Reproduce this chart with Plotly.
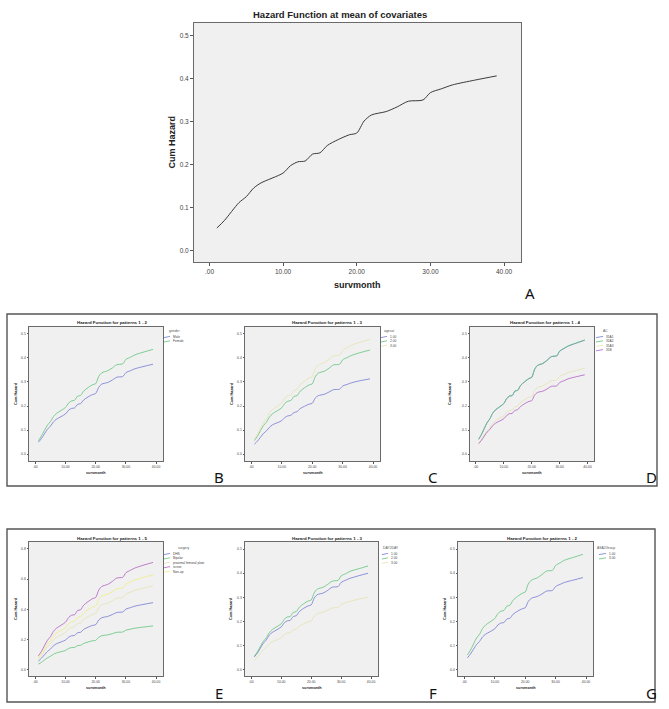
import plotly.graph_objects as go

# ---------------------------------------------------------
# DATOS (riesgo acumulado por mes)
# ---------------------------------------------------------
survmonth = [1, 2, 4, 5, 6, 7, 10, 11, 12, 13, 14, 15, 16, 17.5, 19, 20, 21, 22,
             24, 25.5, 27, 29, 30, 31.5, 33, 36, 39]

hazard_mean = [0.053, 0.070, 0.112, 0.126, 0.146, 0.158, 0.181, 0.198, 0.207, 0.209, 0.225, 0.228,
               0.245, 0.259, 0.270, 0.274, 0.302, 0.316, 0.324, 0.335, 0.348, 0.351, 0.368, 0.377,
               0.386, 0.397, 0.407]

gender_labels = ["Male", "Female"]
gender_male = [0.049, 0.064, 0.103, 0.116, 0.134, 0.145, 0.167, 0.182, 0.190, 0.192, 0.207, 0.210,
               0.225, 0.238, 0.248, 0.252, 0.278, 0.291, 0.298, 0.308, 0.320, 0.323, 0.339, 0.347,
               0.355, 0.365, 0.374]
gender_female = [0.055, 0.075, 0.120, 0.135, 0.156, 0.169, 0.194, 0.212, 0.221, 0.224, 0.241, 0.244,
                 0.262, 0.277, 0.289, 0.293, 0.323, 0.338, 0.347, 0.358, 0.372, 0.376, 0.394, 0.403,
                 0.413, 0.425, 0.436]

agecat_labels = ["1.00", "2.00", "3.00"]
agecat_1 = [0.041, 0.054, 0.086, 0.097, 0.112, 0.122, 0.139, 0.152, 0.159, 0.161, 0.173, 0.176,
            0.189, 0.199, 0.208, 0.211, 0.233, 0.243, 0.249, 0.258, 0.268, 0.270, 0.283, 0.290,
            0.297, 0.306, 0.313]
agecat_2 = [0.056, 0.075, 0.119, 0.134, 0.155, 0.168, 0.193, 0.211, 0.220, 0.223, 0.240, 0.243,
            0.261, 0.276, 0.288, 0.292, 0.322, 0.337, 0.345, 0.357, 0.371, 0.374, 0.392, 0.402,
            0.411, 0.423, 0.433]
agecat_3 = [0.062, 0.082, 0.132, 0.148, 0.172, 0.186, 0.213, 0.233, 0.243, 0.246, 0.264, 0.268,
            0.288, 0.304, 0.317, 0.322, 0.355, 0.371, 0.381, 0.394, 0.409, 0.412, 0.432, 0.443,
            0.454, 0.466, 0.478]

ac_labels = ["31A1", "31A2", "31A3", "31B"]
ac_31a1 = [0.061, 0.081, 0.130, 0.146, 0.169, 0.183, 0.210, 0.230, 0.241, 0.243, 0.262, 0.265,
           0.285, 0.301, 0.314, 0.319, 0.351, 0.368, 0.377, 0.390, 0.405, 0.409, 0.428, 0.439,
           0.449, 0.462, 0.474]
ac_31a2 = [0.062, 0.082, 0.131, 0.147, 0.170, 0.184, 0.211, 0.231, 0.242, 0.244, 0.263, 0.266,
           0.286, 0.302, 0.315, 0.320, 0.352, 0.369, 0.378, 0.391, 0.406, 0.410, 0.429, 0.440,
           0.450, 0.463, 0.475]
ac_31a3 = [0.046, 0.061, 0.098, 0.110, 0.128, 0.139, 0.159, 0.174, 0.182, 0.183, 0.197, 0.200,
           0.215, 0.227, 0.237, 0.240, 0.265, 0.277, 0.284, 0.294, 0.305, 0.308, 0.323, 0.331,
           0.339, 0.348, 0.357]
ac_31b = [0.043, 0.057, 0.091, 0.102, 0.118, 0.128, 0.147, 0.160, 0.168, 0.169, 0.182, 0.185,
          0.198, 0.210, 0.219, 0.222, 0.245, 0.256, 0.262, 0.271, 0.282, 0.284, 0.298, 0.305,
          0.313, 0.322, 0.330]

surgery_labels = ["DHS", "Bipolar", "proximal femoral plate", "screw", "Non-op"]
surgery_dhs = [0.058, 0.077, 0.122, 0.138, 0.160, 0.173, 0.198, 0.216, 0.226, 0.228, 0.246, 0.249,
               0.268, 0.283, 0.295, 0.299, 0.330, 0.345, 0.354, 0.366, 0.380, 0.384, 0.402, 0.412,
               0.422, 0.434, 0.445]
surgery_bipolar = [0.038, 0.050, 0.080, 0.090, 0.104, 0.113, 0.129, 0.142, 0.148, 0.149, 0.161, 0.163,
                   0.175, 0.185, 0.193, 0.196, 0.216, 0.226, 0.232, 0.240, 0.249, 0.251, 0.263, 0.270,
                   0.276, 0.284, 0.291]
surgery_pfp = [0.072, 0.095, 0.153, 0.172, 0.199, 0.216, 0.247, 0.270, 0.282, 0.285, 0.307, 0.311,
               0.334, 0.353, 0.368, 0.374, 0.412, 0.431, 0.442, 0.457, 0.475, 0.479, 0.502, 0.514,
               0.527, 0.542, 0.555]
surgery_screw = [0.093, 0.122, 0.196, 0.220, 0.255, 0.276, 0.316, 0.346, 0.362, 0.365, 0.393, 0.398,
                 0.428, 0.452, 0.472, 0.479, 0.528, 0.552, 0.566, 0.585, 0.608, 0.613, 0.643, 0.659,
                 0.674, 0.694, 0.711]
surgery_nonop = [0.082, 0.108, 0.173, 0.194, 0.225, 0.244, 0.279, 0.306, 0.319, 0.322, 0.347, 0.352,
                 0.378, 0.400, 0.417, 0.423, 0.466, 0.488, 0.500, 0.517, 0.537, 0.542, 0.568, 0.582,
                 0.596, 0.613, 0.628]

day2day_labels = ["1.00", "2.00", "3.00"]
day2day_1 = [0.054, 0.069, 0.110, 0.124, 0.144, 0.155, 0.178, 0.195, 0.203, 0.205, 0.221, 0.224,
             0.241, 0.255, 0.265, 0.269, 0.297, 0.311, 0.318, 0.329, 0.342, 0.345, 0.362, 0.371,
             0.379, 0.390, 0.400]
day2day_2 = [0.056, 0.074, 0.118, 0.133, 0.154, 0.167, 0.191, 0.209, 0.219, 0.221, 0.238, 0.241,
             0.259, 0.274, 0.285, 0.289, 0.319, 0.334, 0.342, 0.354, 0.367, 0.371, 0.389, 0.398,
             0.408, 0.419, 0.430]
day2day_3 = [0.040, 0.052, 0.083, 0.093, 0.108, 0.116, 0.133, 0.146, 0.153, 0.154, 0.166, 0.168,
             0.181, 0.191, 0.199, 0.202, 0.223, 0.233, 0.239, 0.247, 0.256, 0.259, 0.271, 0.278,
             0.284, 0.293, 0.300]

asa_labels = ["1.00", "3.00"]
asa_1 = [0.050, 0.066, 0.105, 0.118, 0.137, 0.148, 0.170, 0.186, 0.194, 0.196, 0.211, 0.214,
         0.230, 0.243, 0.253, 0.257, 0.283, 0.296, 0.304, 0.314, 0.326, 0.329, 0.345, 0.354,
         0.362, 0.372, 0.382]
asa_3 = [0.062, 0.082, 0.132, 0.148, 0.172, 0.186, 0.213, 0.233, 0.243, 0.246, 0.264, 0.268,
         0.288, 0.304, 0.317, 0.322, 0.355, 0.371, 0.381, 0.394, 0.409, 0.412, 0.432, 0.443,
         0.454, 0.466, 0.478]

x_ticks = [0, 10, 20, 30, 40]
x_ticktext = [".00", "10.00", "20.00", "30.00", "40.00"]
y_ticks_05 = [0, 0.1, 0.2, 0.3, 0.4, 0.5]
y_ticktext_05 = ["0.0", "0.1", "0.2", "0.3", "0.4", "0.5"]
y_ticks_08 = [0, 0.2, 0.4, 0.6, 0.8]
y_ticktext_08 = ["0.0", "0.2", "0.4", "0.6", "0.8"]

# ---------------------------------------------------------
# ESTILO / DISPOSICIÓN (en píxeles de la imagen 669x709)
# ---------------------------------------------------------
W, H = 669, 709
FONT = "Liberation Sans, Arial, sans-serif"
BLUE, GREEN, PALE, PURPLE, YELLOW = "#7479d2", "#5fc47a", "#e6e2b0", "#b060c0", "#f0ec80"


def px(x):
    return x / W


def py(y):
    return 1 - y / H


paneles = [
    dict(box=(194, 23, 521, 262), yr=(-0.026, 0.53), yt=(y_ticks_05, y_ticktext_05),
         title="Hazard Function at mean of covariates", title_xy=(340, 15), big=True,
         series=[(hazard_mean, "#3a3a3a")], ylab_x=171, letter=("A", 530, 293)),
    dict(box=(29, 327, 163, 461), yr=(-0.029, 0.529), yt=(y_ticks_05, y_ticktext_05),
         title="Hazard Function for patterns 1 - 2", title_xy=(112, 322),
         series=[(gender_male, BLUE), (gender_female, GREEN)],
         legend=("gender", gender_labels, 167, 331, 164, 171), ylab_x=16, letter=("B", 219, 477)),
    dict(box=(245, 327, 380, 461), yr=(-0.029, 0.529), yt=(y_ticks_05, y_ticktext_05),
         title="Hazard Function for patterns 1 - 3", title_xy=(327, 322),
         series=[(agecat_1, BLUE), (agecat_2, GREEN), (agecat_3, PALE)],
         legend=("agecat", agecat_labels, 382, 331, 381, 388), ylab_x=232, letter=("C", 433, 477)),
    dict(box=(470, 327, 594, 461), yr=(-0.029, 0.529), yt=(y_ticks_05, y_ticktext_05),
         title="Hazard Function for patterns 1 - 4", title_xy=(545, 322),
         series=[(ac_31a1, BLUE), (ac_31a2, GREEN), (ac_31a3, PALE), (ac_31b, PURPLE)],
         legend=("AC", ac_labels, 601, 331, 596, 604), ylab_x=450, letter=("D", 651, 477)),
    dict(box=(29, 542, 163, 676), yr=(-0.040, 0.846), yt=(y_ticks_08, y_ticktext_08),
         title="Hazard Function for patterns 1 - 5", title_xy=(112, 538),
         series=[(surgery_dhs, BLUE), (surgery_bipolar, GREEN), (surgery_pfp, PALE),
                 (surgery_screw, PURPLE), (surgery_nonop, YELLOW)],
         legend=("surgery", surgery_labels, 176, 548, 164, 171), ylab_x=16, letter=("E", 219, 693)),
    dict(box=(245, 542, 378, 676), yr=(-0.025, 0.529), yt=(y_ticks_05, y_ticktext_05),
         title="Hazard Function for patterns 1 - 3", title_xy=(327, 538),
         series=[(day2day_1, BLUE), (day2day_2, GREEN), (day2day_3, PALE)],
         legend=("DAY2DAY", day2day_labels, 381, 548, 382, 389), ylab_x=231, letter=("F", 433, 693)),
    dict(box=(458, 542, 593, 676), yr=(-0.025, 0.529), yt=(y_ticks_05, y_ticktext_05),
         title="Hazard Function for patterns 1 - 2", title_xy=(542, 538),
         series=[(asa_1, BLUE), (asa_3, GREEN)],
         legend=("ASA2Group", asa_labels, 595, 548, 599, 607), ylab_x=445, letter=("G", 651, 693)),
]

fig = go.Figure()
layout = {}
annotations = []
shapes = []

for i, p in enumerate(paneles, start=1):
    sfx = "" if i == 1 else str(i)
    big = p.get("big", False)
    x0, y0, x1, y1 = p["box"]
    tick_size = 6.5 if big else 3.4
    ticklen = 3 if big else 1.5

    for vals, color in p["series"]:
        fig.add_trace(go.Scatter(
            x=survmonth, y=vals, xaxis="x" + sfx, yaxis="y" + sfx,
            mode="lines", line=dict(color=color, width=1 if big else 0.8,
                                    shape="spline", smoothing=0.8),
            showlegend=False, hoverinfo="skip"))

    comun = dict(showgrid=False, zeroline=False, showline=True, mirror=True,
                 linecolor="#6a6a6a", linewidth=1, ticks="outside", ticklen=ticklen,
                 tickwidth=0.8, tickcolor="#555",
                 tickfont=dict(size=tick_size, color="#444", family=FONT))
    layout["xaxis" + sfx] = dict(domain=[px(x0), px(x1)], range=[-2.1, 42.3],
                                 tickvals=x_ticks, ticktext=x_ticktext,
                                 anchor="y" + sfx, **comun)
    layout["yaxis" + sfx] = dict(domain=[py(y1), py(y0)], range=list(p["yr"]),
                                 tickvals=p["yt"][0], ticktext=p["yt"][1],
                                 anchor="x" + sfx, **comun)

    # título del panel
    tx, ty = p["title_xy"]
    annotations.append(dict(text="<b>%s</b>" % p["title"], x=px(tx), y=py(ty),
                            xref="paper", yref="paper", showarrow=False,
                            xanchor="center", yanchor="middle",
                            font=dict(size=9.5 if big else 4.4, color="#222", family=FONT)))
    # títulos de ejes
    annotations.append(dict(text="<b>survmonth</b>", x=px((x0 + x1) / 2),
                            y=py(285 if big else y1 + 12), xref="paper", yref="paper",
                            showarrow=False, xanchor="center", yanchor="middle",
                            font=dict(size=9 if big else 3.8, color="#222", family=FONT)))
    annotations.append(dict(text="<b>Cum Hazard</b>", x=px(p["ylab_x"]), y=py((y0 + y1) / 2),
                            xref="paper", yref="paper", showarrow=False, textangle=-90,
                            xanchor="center", yanchor="middle",
                            font=dict(size=9 if big else 3.8, color="#222", family=FONT)))
    # letra del panel
    lt, lx, ly = p["letter"]
    annotations.append(dict(text=lt, x=px(lx), y=py(ly), xref="paper", yref="paper",
                            showarrow=False, xanchor="center", yanchor="middle",
                            font=dict(size=15, color="#111", family="Noto Sans, sans-serif")))

    # leyenda pequeña (estilo SPSS)
    if "legend" in p:
        ltitle, labels, lgx, lgy, sx, txx = p["legend"]
        annotations.append(dict(text=ltitle, x=px(lgx), y=py(lgy), xref="paper", yref="paper",
                                showarrow=False, xanchor="left", yanchor="middle",
                                font=dict(size=3.4, color="#555", family=FONT)))
        for k, (lab, (_, color)) in enumerate(zip(labels, p["series"])):
            yy = lgy + 6 + k * 4.4
            shapes.append(dict(type="line", xref="paper", yref="paper",
                               x0=px(sx), x1=px(txx - 1), y0=py(yy + 0.6), y1=py(yy - 0.6),
                               line=dict(color=color, width=0.8)))
            annotations.append(dict(text=lab, x=px(txx), y=py(yy), xref="paper", yref="paper",
                                    showarrow=False, xanchor="left", yanchor="middle",
                                    font=dict(size=3.2, color="#444", family=FONT)))

# marcos de las filas de paneles
for bx0, by0, bx1, by1 in [(7, 314, 657, 486), (7, 529, 655, 702)]:
    shapes.append(dict(type="rect", xref="paper", yref="paper",
                       x0=px(bx0), x1=px(bx1), y0=py(by1), y1=py(by0),
                       line=dict(color="#555", width=1.4), fillcolor="rgba(0,0,0,0)"))

fig.update_layout(
    width=W, height=H,
    margin=dict(l=0, r=0, t=0, b=0),
    paper_bgcolor="white",
    plot_bgcolor="#f0f0f0",
    font=dict(family=FONT),
    annotations=annotations,
    shapes=shapes,
    **layout
)

# sin margen del <body> para que la figura ocupe la ventana exacta
fig.write_html("out.html", config={"displayModeBar": False},
               post_script="document.body.style.margin='0';document.body.style.overflow='hidden';")
